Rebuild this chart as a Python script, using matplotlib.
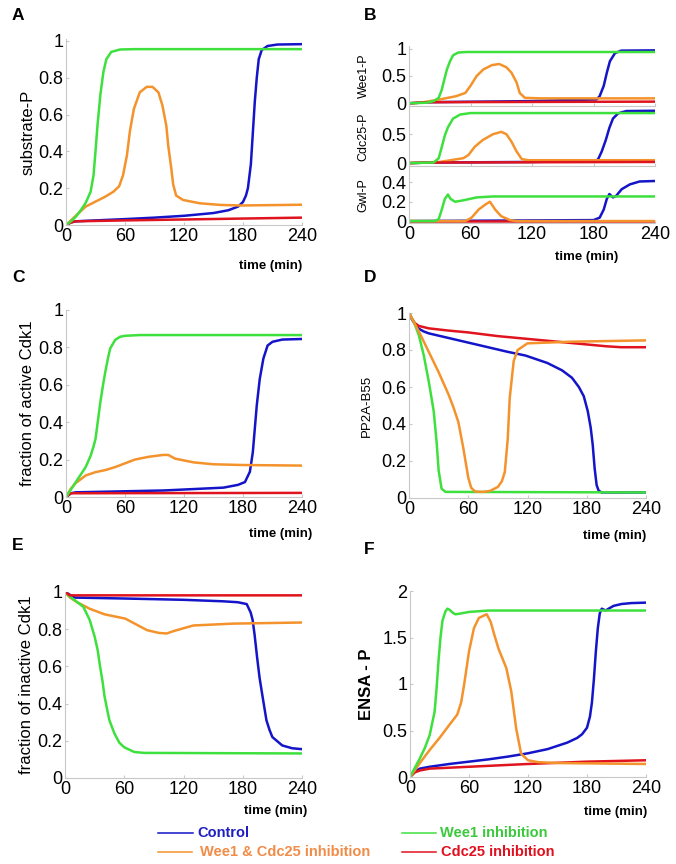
import matplotlib

matplotlib.use("Agg")
import matplotlib.pyplot as plt
from matplotlib.lines import Line2D

plt.rcParams["font.family"] = ["Liberation Sans", "DejaVu Sans"]

W, H = 676, 864

# colours of the four conditions
C_CTRL = "#1414c8"
C_WEE1 = "#3ee03e"
C_BOTH = "#f4922c"
C_CDC25 = "#e0141e"

TICKS_X = [0, 60, 120, 180, 240]

# ---- A: substrate-P ----
sub_ctrl_t = [0, 5, 10, 30, 60, 90, 120, 150, 165, 175, 180, 183, 185, 188, 190, 192, 194, 196, 199, 205, 215, 240]
sub_ctrl = [0, 0.015, 0.02, 0.025, 0.032, 0.04, 0.05, 0.065, 0.08, 0.1, 0.125, 0.16, 0.2, 0.33, 0.5, 0.67, 0.8, 0.9, 0.95, 0.972, 0.98, 0.982]
sub_wee1_t = [0, 5, 10, 15, 20, 25, 28, 30, 32, 35, 38, 41, 46, 55, 70, 240]
sub_wee1 = [0, 0.02, 0.045, 0.08, 0.12, 0.18, 0.27, 0.4, 0.54, 0.71, 0.83, 0.9, 0.94, 0.953, 0.955, 0.955]
sub_both_t = [0, 10, 20, 30, 40, 48, 54, 58, 62, 65, 69, 75, 82, 88, 94, 98, 102, 104, 107, 109, 112, 119, 136, 157, 177, 240]
sub_both = [0, 0.05, 0.1, 0.127, 0.154, 0.18, 0.21, 0.27, 0.38, 0.51, 0.63, 0.72, 0.75, 0.75, 0.72, 0.65, 0.54, 0.43, 0.31, 0.22, 0.16, 0.136, 0.118, 0.109, 0.106, 0.11]
sub_cdc25_t = [0, 5, 10, 60, 120, 180, 240]
sub_cdc25 = [0, 0.013, 0.02, 0.025, 0.03, 0.035, 0.04]

# ---- B: Wee1-P, Cdc25-P, Gwl-P ----
wee_ctrl_t = [0, 20, 120, 160, 183, 186, 190, 193, 196, 201, 207, 240]
wee_ctrl = [0, 0.02, 0.04, 0.06, 0.07, 0.13, 0.32, 0.56, 0.77, 0.92, 0.965, 0.97]
wee_wee1_t = [0, 17, 24, 29, 32, 34.5, 37, 40, 43, 48, 56, 240]
wee_wee1 = [0, 0.01, 0.04, 0.1, 0.25, 0.44, 0.62, 0.77, 0.88, 0.93, 0.94, 0.94]
wee_both_t = [0, 11, 30, 46, 55, 60, 66, 72.5, 81, 88, 95, 100, 105, 108, 113, 128, 240]
wee_both = [0, 0.01, 0.07, 0.13, 0.19, 0.32, 0.5, 0.62, 0.7, 0.72, 0.66, 0.56, 0.38, 0.19, 0.1, 0.09, 0.09]
wee_cdc25_t = [0, 20, 240]
wee_cdc25 = [0, 0.02, 0.03]

cdc_ctrl_t = [0, 20, 120, 183, 185, 188, 192, 195.5, 199, 204, 212, 240]
cdc_ctrl = [0, 0.01, 0.02, 0.04, 0.085, 0.2, 0.4, 0.61, 0.77, 0.86, 0.9, 0.905]
cdc_wee1_t = [0, 24, 29, 32, 35, 38, 43, 50, 60, 240]
cdc_wee1 = [0, 0.01, 0.085, 0.28, 0.48, 0.62, 0.77, 0.84, 0.865, 0.865]
cdc_both_t = [0, 30, 53, 58, 64, 72, 82, 90, 95, 100, 105, 110, 116, 240]
cdc_both = [0, 0.02, 0.085, 0.14, 0.28, 0.4, 0.5, 0.54, 0.5, 0.37, 0.2, 0.07, 0.05, 0.05]
cdc_cdc25_t = [0, 20, 240]
cdc_cdc25 = [0, 0.01, 0.02]

gwl_ctrl_t = [0, 180, 186, 190, 193, 195.5, 199, 202, 207.5, 215.5, 225, 240]
gwl_ctrl = [0, 0.01, 0.035, 0.12, 0.23, 0.28, 0.245, 0.26, 0.33, 0.38, 0.41, 0.415]
gwl_wee1_t = [0, 25, 29, 32, 35, 38, 40.5, 45, 53, 66, 82, 240]
gwl_wee1 = [0, 0, 0.02, 0.12, 0.23, 0.275, 0.23, 0.2, 0.215, 0.245, 0.255, 0.255]
gwl_both_t = [0, 55, 61, 68, 75, 79, 84, 90, 98.5, 105, 240]
gwl_both = [0, 0, 0.035, 0.12, 0.175, 0.2, 0.12, 0.05, 0.01, 0, 0]
gwl_cdc25_t = [0, 240]
gwl_cdc25 = [0, 0]

# ---- C: fraction of active Cdk1 ----
act_ctrl_t = [0, 5, 10, 100, 160, 175, 182, 187, 190, 194, 197, 200.7, 205, 210, 220, 240]
act_ctrl = [0, 0.02, 0.025, 0.035, 0.05, 0.065, 0.08, 0.135, 0.24, 0.49, 0.63, 0.74, 0.81, 0.83, 0.842, 0.845]
act_wee1_t = [0, 5, 10, 15, 20, 25, 28, 30, 33, 35, 38, 40, 43, 45, 50, 55, 60, 75, 240]
act_wee1 = [0, 0.04, 0.08, 0.12, 0.16, 0.22, 0.27, 0.31, 0.43, 0.51, 0.61, 0.67, 0.75, 0.795, 0.84, 0.857, 0.862, 0.866, 0.866]
act_both_t = [0, 5, 10, 20, 30, 40, 50, 60, 70, 84, 99, 104, 111, 130, 150, 180, 240]
act_both = [0, 0.045, 0.075, 0.115, 0.133, 0.144, 0.16, 0.18, 0.2, 0.215, 0.225, 0.225, 0.205, 0.185, 0.175, 0.171, 0.168]
act_cdc25_t = [0, 5, 240]
act_cdc25 = [0, 0.02, 0.022]

# ---- D: PP2A-B55 ----
pp2a_ctrl_t = [0, 3, 6, 10, 15, 20, 40, 60, 80, 100, 118, 140, 155, 165, 172, 177, 181, 184, 186, 188, 190, 192, 195, 240]
pp2a_ctrl = [1, 0.965, 0.94, 0.915, 0.9, 0.89, 0.865, 0.84, 0.815, 0.79, 0.77, 0.73, 0.69, 0.65, 0.6, 0.55, 0.47, 0.38, 0.29, 0.16, 0.07, 0.04, 0.03, 0.03]
pp2a_wee1_t = [0, 5, 10, 15, 20, 25, 28, 30, 33, 37, 240]
pp2a_wee1 = [1, 0.95, 0.88, 0.77, 0.63, 0.47, 0.3, 0.15, 0.05, 0.033, 0.03]
pp2a_both_t = [0, 5, 10, 20, 30, 40, 45, 50, 55, 60, 63, 67, 75, 82, 90, 94, 97, 100, 102, 106, 110, 120, 165, 240]
pp2a_both = [1, 0.95, 0.9, 0.79, 0.68, 0.56, 0.49, 0.41, 0.27, 0.11, 0.055, 0.035, 0.033, 0.038, 0.06, 0.09, 0.14, 0.32, 0.54, 0.74, 0.8, 0.836, 0.845, 0.852]
pp2a_cdc25_t = [0, 3, 6, 10, 20, 40, 60, 90, 120, 150, 180, 200, 215, 240]
pp2a_cdc25 = [1, 0.97, 0.945, 0.93, 0.917, 0.905, 0.895, 0.875, 0.86, 0.845, 0.83, 0.82, 0.815, 0.815]

# ---- E: fraction of inactive Cdk1 ----
ina_ctrl_t = [0, 10, 60, 120, 160, 175, 184, 188, 190, 192, 194.5, 197, 200, 204, 207, 210, 220, 230, 240]
ina_ctrl = [1, 0.97, 0.965, 0.958, 0.95, 0.945, 0.935, 0.89, 0.85, 0.77, 0.65, 0.54, 0.44, 0.31, 0.26, 0.22, 0.175, 0.16, 0.155]
ina_wee1_t = [0, 5, 10, 18.6, 25, 30, 33, 35.5, 38, 40, 43, 45, 50, 55, 60, 70, 80, 240]
ina_wee1 = [1, 0.975, 0.955, 0.92, 0.85, 0.76, 0.69, 0.6, 0.52, 0.44, 0.36, 0.31, 0.24, 0.19, 0.165, 0.14, 0.135, 0.132]
ina_both_t = [0, 5, 12, 25, 40, 61, 83, 95, 103, 110, 130, 170, 240]
ina_both = [1, 0.97, 0.946, 0.91, 0.88, 0.857, 0.795, 0.78, 0.777, 0.79, 0.82, 0.83, 0.836]
ina_cdc25_t = [0, 5, 240]
ina_cdc25 = [1, 0.982, 0.982]

# ---- F: ENSA-P ----
ensa_ctrl_t = [0, 5, 10, 20, 40, 60, 80, 100, 120, 140, 160, 170, 175, 180, 183, 185, 187, 189, 191, 193, 195, 197, 199, 202, 207, 215, 225, 240]
ensa_ctrl = [0, 0.06, 0.09, 0.11, 0.14, 0.165, 0.19, 0.22, 0.255, 0.3, 0.37, 0.42, 0.46, 0.53, 0.65, 0.8, 1.05, 1.35, 1.6, 1.76, 1.81, 1.8, 1.79, 1.81, 1.84, 1.86, 1.87, 1.875]
ensa_wee1_t = [0, 5, 10, 15, 20, 25, 27, 29, 31, 33, 36, 38, 40, 43, 46, 50, 60, 80, 240]
ensa_wee1 = [0, 0.1, 0.2, 0.31, 0.45, 0.7, 0.95, 1.25, 1.5, 1.68, 1.78, 1.81, 1.8, 1.77, 1.75, 1.755, 1.775, 1.79, 1.79]
ensa_both_t = [0, 10, 20, 30, 40, 48, 52, 55, 60, 65, 70, 78, 82, 86, 90, 98, 103, 108, 113, 120, 130, 150, 240]
ensa_both = [0, 0.15, 0.29, 0.42, 0.56, 0.67, 0.8, 0.99, 1.35, 1.6, 1.71, 1.75, 1.67, 1.52, 1.38, 1.17, 0.92, 0.52, 0.25, 0.18, 0.16, 0.15, 0.14]
ensa_cdc25_t = [0, 5, 10, 20, 60, 120, 180, 240]
ensa_cdc25 = [0, 0.05, 0.07, 0.09, 0.11, 0.14, 0.165, 0.18]

fig = plt.figure(figsize=(W / 100, H / 100), dpi=100)


def px_axes(left, right, top, bottom):
    return fig.add_axes([left / W, 1 - bottom / H, (right - left) / W, (bottom - top) / H])


def style(ax, ylim, yticks, xlabels=True):
    ax.set_xlim(0, 240)
    ax.set_ylim(*ylim)
    ax.set_xticks(TICKS_X)
    ax.set_yticks(yticks)
    ax.set_yticklabels([f"{v:g}" for v in yticks])
    if not xlabels:
        ax.set_xticklabels([])
    for s in ("top", "right"):
        ax.spines[s].set_visible(False)
    for s in ("left", "bottom"):
        ax.spines[s].set_color("#c8c8c8")
        ax.spines[s].set_linewidth(0.8)
    ax.tick_params(direction="in", length=2, color="#c8c8c8", labelsize=13, pad=2)
    ax.patch.set_alpha(0)


def draw(ax, series):
    for t, y, c in series:
        ax.plot(t, y, color=c, lw=1.8, solid_capstyle="round", solid_joinstyle="round")


def time_label(x_right, y):
    fig.text(x_right / W, 1 - y / H, "time (min)", ha="right", va="center",
             fontsize=9.5, fontweight="bold")


def letter(x, y, s):
    fig.text(x / W, 1 - y / H, s, ha="left", va="center", fontsize=12.5, fontweight="bold")


# A
ax = px_axes(66, 302, 39, 225)
draw(ax, [(sub_ctrl_t, sub_ctrl, C_CTRL), (sub_cdc25_t, sub_cdc25, C_CDC25),
          (sub_both_t, sub_both, C_BOTH), (sub_wee1_t, sub_wee1, C_WEE1)])
style(ax, (0, 1.01), [0, 0.2, 0.4, 0.6, 0.8, 1])
ax.set_ylabel("substrate-P", fontsize=12, labelpad=2)
letter(12, 16, "A")
time_label(302, 266)

# B
axw = px_axes(409, 655, 46, 106)
draw(axw, [(wee_ctrl_t, wee_ctrl, C_CTRL), (wee_both_t, wee_both, C_BOTH),
           (wee_cdc25_t, wee_cdc25, C_CDC25), (wee_wee1_t, wee_wee1, C_WEE1)])
style(axw, (-0.05, 1.05), [0, 0.5, 1], xlabels=False)
axw.set_ylabel("Wee1-P", fontsize=9, labelpad=4)

axc = px_axes(409, 655, 107, 166)
draw(axc, [(cdc_ctrl_t, cdc_ctrl, C_CTRL), (cdc_both_t, cdc_both, C_BOTH),
           (cdc_cdc25_t, cdc_cdc25, C_CDC25), (cdc_wee1_t, cdc_wee1, C_WEE1)])
style(axc, (-0.05, 0.97), [0, 0.5], xlabels=False)
axc.set_ylabel("Cdc25-P", fontsize=9, labelpad=4)

axg = px_axes(409, 655, 167, 223)
draw(axg, [(gwl_ctrl_t, gwl_ctrl, C_CTRL), (gwl_cdc25_t, gwl_cdc25, C_CDC25),
           (gwl_both_t, gwl_both, C_BOTH), (gwl_wee1_t, gwl_wee1, C_WEE1)])
style(axg, (-0.02, 0.56), [0, 0.2, 0.4])
axg.set_ylabel("Gwl-P", fontsize=9, labelpad=4)
for a in (axw, axc, axg):
    a.yaxis.set_label_coords(-0.16, 0.5)
letter(364, 16, "B")
time_label(618, 257)

# C
ax = px_axes(66, 302, 310, 497)
draw(ax, [(act_ctrl_t, act_ctrl, C_CTRL), (act_cdc25_t, act_cdc25, C_CDC25),
          (act_both_t, act_both, C_BOTH), (act_wee1_t, act_wee1, C_WEE1)])
style(ax, (0, 1), [0, 0.2, 0.4, 0.6, 0.8, 1])
ax.set_ylabel("fraction of active Cdk1", fontsize=12, labelpad=2)
letter(12, 277, "C")
time_label(312, 534)

# D
ax = px_axes(409, 646, 313, 498)
draw(ax, [(pp2a_ctrl_t, pp2a_ctrl, C_CTRL), (pp2a_cdc25_t, pp2a_cdc25, C_CDC25),
          (pp2a_wee1_t, pp2a_wee1, C_WEE1), (pp2a_both_t, pp2a_both, C_BOTH)])
style(ax, (0, 1), [0, 0.2, 0.4, 0.6, 0.8, 1])
ax.set_ylabel("PP2A-B55", fontsize=9.5, labelpad=6)
letter(364, 277, "D")
time_label(646, 536)

# E
ax = px_axes(65, 302, 592, 778)
draw(ax, [(ina_ctrl_t, ina_ctrl, C_CTRL), (ina_both_t, ina_both, C_BOTH),
          (ina_wee1_t, ina_wee1, C_WEE1), (ina_cdc25_t, ina_cdc25, C_CDC25)])
style(ax, (0, 1), [0, 0.2, 0.4, 0.6, 0.8, 1])
ax.set_ylabel("fraction of inactive Cdk1", fontsize=12, labelpad=2)
letter(12, 545, "E")
time_label(307, 811)

# F
ax = px_axes(410, 646, 591, 777)
draw(ax, [(ensa_ctrl_t, ensa_ctrl, C_CTRL), (ensa_cdc25_t, ensa_cdc25, C_CDC25),
          (ensa_both_t, ensa_both, C_BOTH), (ensa_wee1_t, ensa_wee1, C_WEE1)])
style(ax, (0, 2), [0, 0.5, 1, 1.5, 2])
ax.set_ylabel("ENSA - P", fontsize=12, fontweight="bold", labelpad=6)
letter(364, 550, "F")
time_label(647, 812)

# legend drawn by hand below the panels
legend = [
    (158, 193, 833, 197, "Control", C_CTRL, "#2020c0"),
    (158, 192, 852, 200, "Wee1 & Cdc25 inhibition", C_BOTH, "#f08c48"),
    (402, 436, 833, 440, "Wee1 inhibition", C_WEE1, "#3cc83c"),
    (402, 436, 852, 441, "Cdc25 inhibition", C_CDC25, "#e0101e"),
]
for x0, x1, y, xt, label, lc, tc in legend:
    fig.add_artist(Line2D([x0 / W, x1 / W], [1 - y / H, 1 - y / H],
                          transform=fig.transFigure, color=lc, lw=1.1))
    fig.text(xt / W, 1 - y / H, label, ha="left", va="center", color=tc,
             fontsize=10.5, fontweight="bold")

fig.savefig("out.png", dpi=100)
